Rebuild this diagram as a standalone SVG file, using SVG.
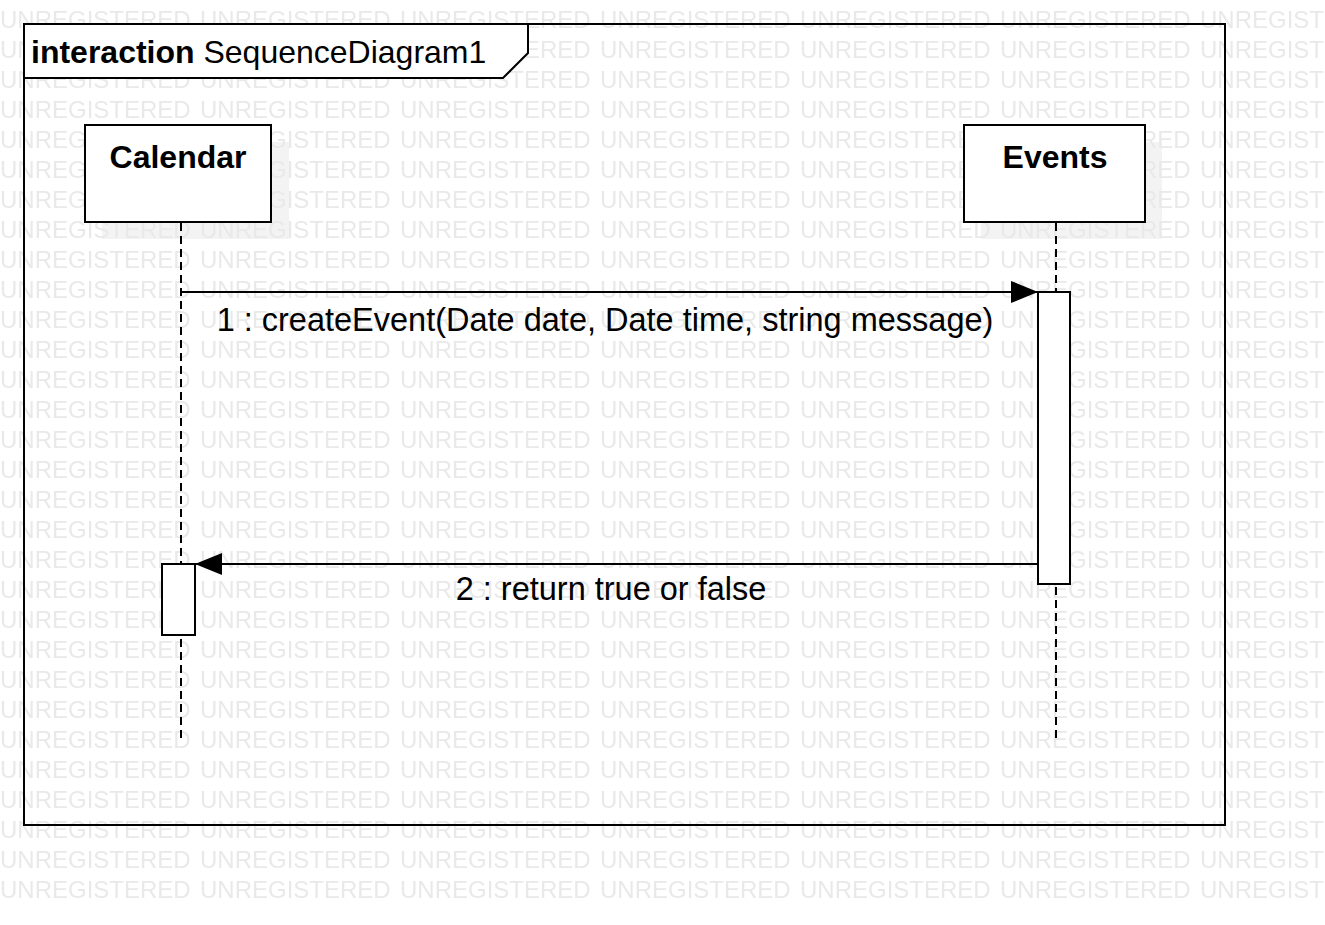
<svg xmlns="http://www.w3.org/2000/svg" width="1325" height="925" viewBox="0 0 1325 925">
<style>
.wm{font-family:"Liberation Sans",Arial,sans-serif;font-size:24px;fill:#e9e9e9}
.box{fill:#ffffff;stroke:#000000;stroke-width:2}
.shadow{fill:#f3f3f3;stroke:none}
.head{font-family:"Liberation Sans",Arial,sans-serif;font-size:32px;font-weight:bold;fill:#000000;text-anchor:middle}
.lbl{font-family:"Liberation Sans",Arial,sans-serif;font-size:32.5px;fill:#000000;text-anchor:middle}
.life{stroke:#000000;stroke-width:2;stroke-dasharray:8 5;fill:none}
.msg{stroke:#000000;stroke-width:2;fill:none}
</style>
<defs>
<pattern id="wmp" patternUnits="userSpaceOnUse" x="0" y="0" width="200" height="30">
<text class="wm" x="0" y="28">UNREGISTERED</text>
</pattern>
<marker id="arr" viewBox="0 0 27 22" refX="27" refY="11" markerWidth="27" markerHeight="22" markerUnits="userSpaceOnUse" orient="auto">
<path d="M0,0 L27,11 L0,22 Z" fill="#000000"/>
</marker>
</defs>
<rect x="0" y="0" width="1325" height="925" fill="#ffffff"/>
<g id="shadows">
<rect class="shadow" x="102" y="142" width="187" height="97"/>
<rect class="shadow" x="981" y="142" width="181" height="97"/>
</g>
<rect id="watermark" x="0" y="0" width="1325" height="905" fill="url(#wmp)"/>
<g id="frame">
<rect x="24" y="24" width="1201" height="801" fill="none" stroke="#000000" stroke-width="2"/>
<path d="M24,24 L528,24 L528,53 L503,78 L24,78 Z" fill="#ffffff" stroke="#000000" stroke-width="2"/>
<text x="31" y="63" font-family="Liberation Sans, Arial, sans-serif" font-size="32" fill="#000000"><tspan font-weight="bold">interaction</tspan> SequenceDiagram1</text>
</g>
<g id="lifelines">
<line class="life" x1="181" y1="223" x2="181" y2="743"/>
<line class="life" x1="1056" y1="223" x2="1056" y2="743"/>
</g>
<g id="node-calendar">
<rect class="box" x="85" y="125" width="186" height="97"/>
<text class="head" x="178" y="168">Calendar</text>
</g>
<g id="node-events">
<rect class="box" x="964" y="125" width="181" height="97"/>
<text class="head" x="1055" y="168">Events</text>
</g>
<g id="activations">
<rect class="box" x="1038" y="292" width="32" height="292"/>
<rect class="box" x="162" y="564" width="33" height="71"/>
</g>
<g id="connectors">
<line class="msg" x1="181" y1="292" x2="1038" y2="292" marker-end="url(#arr)"/>
<text class="lbl" x="605" y="331">1 : createEvent(Date date, Date time, string message)</text>
<line class="msg" x1="1038" y1="564" x2="195" y2="564" marker-end="url(#arr)"/>
<text class="lbl" x="611" y="600">2 : return true or false</text>
</g>
</svg>
